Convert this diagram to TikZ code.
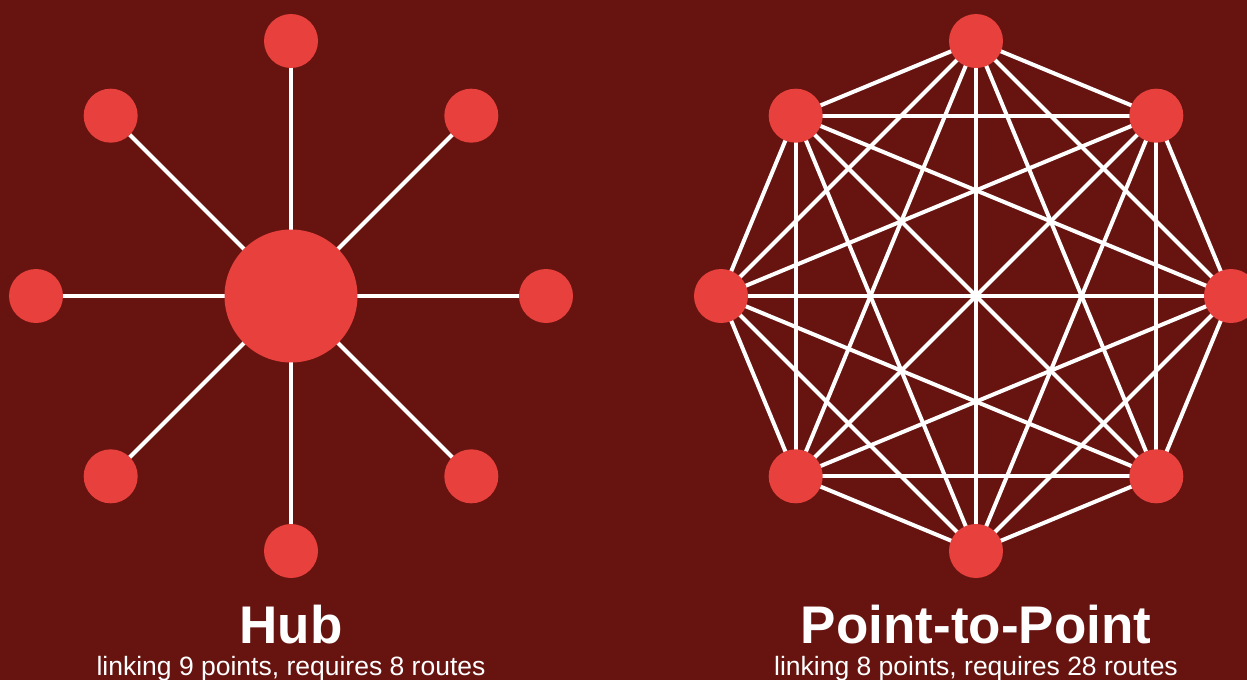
\documentclass[tikz,border=0pt]{standalone}
\usepackage{fontspec}
\setmainfont{Liberation Sans}
\usetikzlibrary{positioning,calc}

\definecolor{bgred}{HTML}{671410}
\definecolor{dotred}{HTML}{E8403C}

\begin{document}
\begin{tikzpicture}[x=1pt, y=-1pt,
  hub/.style={circle, fill=dotred, inner sep=0pt, minimum size=133pt},
  spot/.style={circle, fill=dotred, inner sep=0pt, minimum size=54pt},
  link/.style={draw=white, line width=4pt},
  title/.style={text=white, anchor=base, font=\fontsize{53}{60}\selectfont\bfseries},
  note/.style={text=white, anchor=base, font=\fontsize{26.5}{30}\selectfont}
]
  \fill[bgred] (0,0) rectangle (1247,680);
  \useasboundingbox (0,0) rectangle (1247,680);

  % hub and spokes
  \coordinate (HC) at (291,296);
  \foreach \i in {1,...,8}
    \coordinate (S\i) at ($(HC)+({90-45*(\i-1)}:255pt and -255pt)$);
  \foreach \i in {1,...,8}
    \draw[link] (HC) -- (S\i);
  \node[hub] (HUB) at (HC) {};
  \foreach \i in {1,...,8}
    \node[spot] (s\i) at (S\i) {};

  % fully meshed ring
  \coordinate (PC) at (976,296);
  \foreach \i in {1,...,8}
    \coordinate (P\i) at ($(PC)+({90-45*(\i-1)}:255pt and -255pt)$);
  \foreach \i in {1,...,7}{
    \pgfmathtruncatemacro{\j}{\i+1}
    \foreach \k in {\j,...,8}
      \draw[link] (P\i) -- (P\k);
  }
  \foreach \i in {1,...,8}
    \node[spot] (p\i) at (P\i) {};

  % captions
  \node[title] (hubtitle) at (291,643) {Hub};
  \node[note]  (hubnote)  at (291,675) {linking 9 points, requires 8 routes};
  \node[title] (p2ptitle) at (976,643) {Point-to-Point};
  \node[note]  (p2pnote)  at (976,675) {linking 8 points, requires 28 routes};
\end{tikzpicture}
\end{document}
